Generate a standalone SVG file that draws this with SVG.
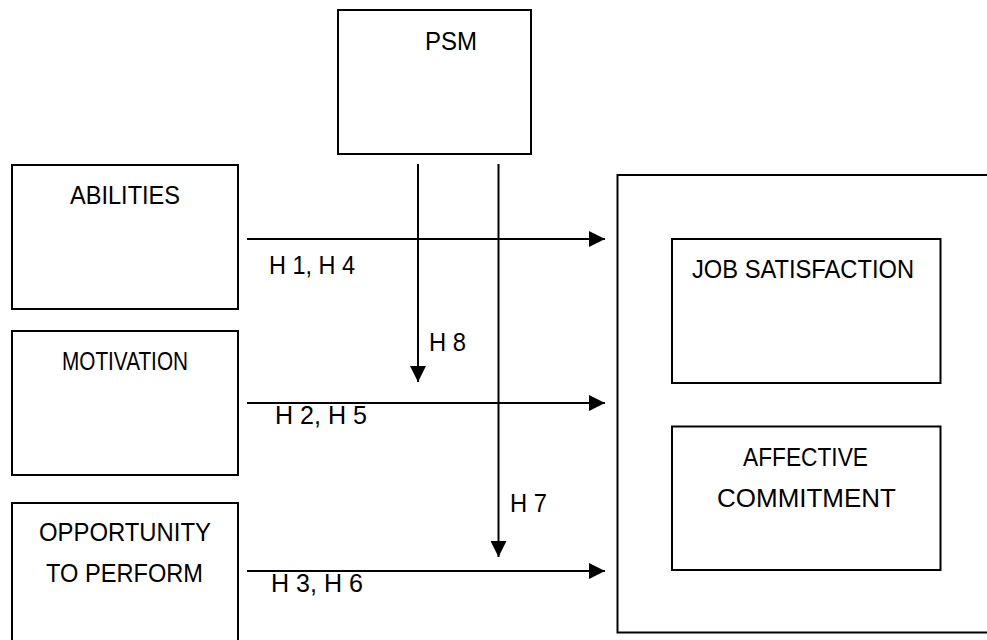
<svg xmlns="http://www.w3.org/2000/svg" width="987" height="640" viewBox="0 0 987 640">
<defs>
<style>
.box{fill:#fff;stroke:#000;stroke-width:2}
.con{stroke:#000;stroke-width:2;fill:none;marker-end:url(#ah)}
text{font-family:"Liberation Sans",Arial,sans-serif;font-size:25px;fill:#000}
</style>
<marker id="ah" markerUnits="userSpaceOnUse" markerWidth="16" markerHeight="16" viewBox="0 0 15 15" refX="15" refY="7.5" orient="auto">
<path d="M0,0 L15,7.5 L0,15 z" fill="#000"/>
</marker>
</defs>
<rect width="987" height="640" fill="#fff"/>
<g id="outcomes">
<rect class="box" x="617.5" y="175" width="400" height="457.5"/>
</g>
<g id="psm">
<rect class="box" x="338" y="10" width="193" height="144"/>
<text x="425" y="50" textLength="52" lengthAdjust="spacingAndGlyphs">PSM</text>
</g>
<g id="abilities">
<rect class="box" x="12" y="165" width="226" height="144"/>
<text x="70" y="204" textLength="110" lengthAdjust="spacingAndGlyphs">ABILITIES</text>
</g>
<g id="motivation">
<rect class="box" x="12" y="331" width="226" height="144"/>
<text x="62" y="370" textLength="126" lengthAdjust="spacingAndGlyphs">MOTIVATION</text>
</g>
<g id="opportunity">
<rect class="box" x="12" y="503" width="226" height="160"/>
<text x="39" y="541" textLength="172" lengthAdjust="spacingAndGlyphs">OPPORTUNITY</text>
<text x="46" y="582" textLength="157" lengthAdjust="spacingAndGlyphs">TO PERFORM</text>
</g>
<g id="job-satisfaction">
<rect class="box" x="672" y="239" width="268.5" height="144"/>
<text x="692" y="278" textLength="222" lengthAdjust="spacingAndGlyphs">JOB SATISFACTION</text>
</g>
<g id="affective-commitment">
<rect class="box" x="672" y="426.5" width="268.5" height="143.5"/>
<text x="743" y="466" textLength="125" lengthAdjust="spacingAndGlyphs">AFFECTIVE</text>
<text x="717" y="507" textLength="179" lengthAdjust="spacingAndGlyphs">COMMITMENT</text>
</g>
<g id="connectors">
<line class="con" x1="247" y1="239" x2="605" y2="239"/>
<line class="con" x1="247" y1="403" x2="605" y2="403"/>
<line class="con" x1="247" y1="571" x2="605" y2="571"/>
<line class="con" x1="418" y1="164" x2="418" y2="382"/>
<line class="con" x1="498.5" y1="164" x2="498.5" y2="557"/>
<text x="269" y="274" textLength="86" lengthAdjust="spacingAndGlyphs">H 1, H 4</text>
<text x="275" y="424" textLength="92" lengthAdjust="spacingAndGlyphs">H 2, H 5</text>
<text x="271" y="592" textLength="92" lengthAdjust="spacingAndGlyphs">H 3, H 6</text>
<text x="429" y="351" textLength="37" lengthAdjust="spacingAndGlyphs">H 8</text>
<text x="510" y="512" textLength="37" lengthAdjust="spacingAndGlyphs">H 7</text>
</g>
</svg>
